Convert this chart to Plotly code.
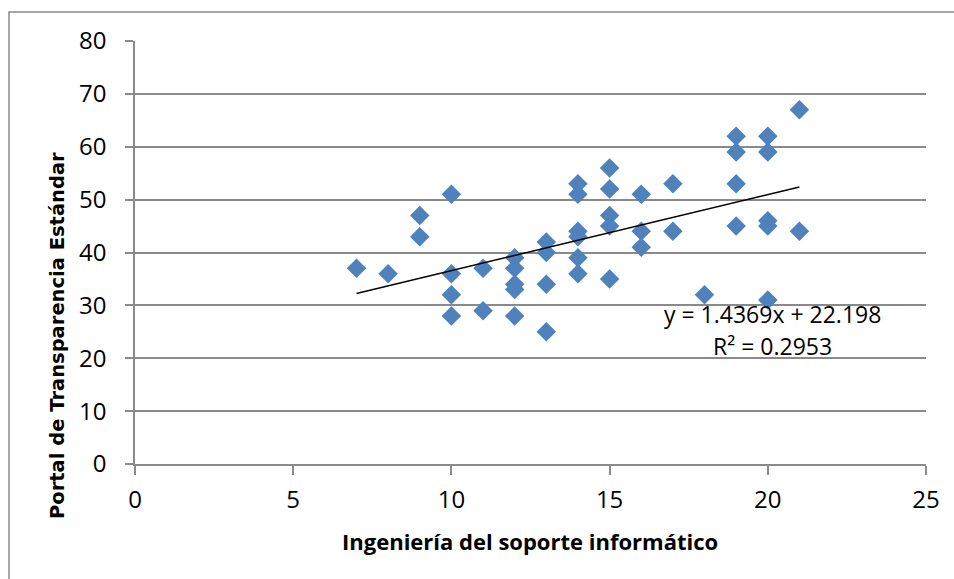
import plotly.graph_objects as go

# Data
x_values = [7, 8, 9, 9, 10, 10, 10, 10, 11, 11,
            12, 12, 12, 12, 12, 13, 13, 13, 13,
            14, 14, 14, 14, 14, 14, 15, 15, 15, 15, 15,
            16, 16, 16, 17, 17, 18,
            19, 19, 19, 19, 20, 20, 20, 20, 20, 21, 21]
y_values = [37, 36, 47, 43, 51, 36, 32, 28, 37, 29,
            39, 37, 34, 33, 28, 42, 40, 34, 25,
            53, 51, 44, 43, 39, 36, 56, 52, 47, 45, 35,
            51, 44, 41, 53, 44, 32,
            62, 59, 53, 45, 62, 59, 46, 45, 31, 67, 44]

slope = 1.4369
intercept = 22.198
r_squared = 0.2953
trend_x = [min(x_values), max(x_values)]
trend_y = [slope * v + intercept for v in trend_x]

x_ticks = [0, 5, 10, 15, 20, 25]
y_ticks = [0, 10, 20, 30, 40, 50, 60, 70, 80]

x_title = "Ingeniería del soporte informático"
y_title = "Portal de Transparencia Estándar"
eq_text = f"y = {slope}x + {intercept}"
r2_text = f"R² = {r_squared}"

grid_color = "#8A8A8A"
font_main = "Open Sans, Noto Sans, sans-serif"

fig = go.Figure()
fig.add_trace(go.Scatter(
    x=x_values, y=y_values, mode="markers",
    marker=dict(symbol="diamond", size=15, color="#4F81BD", line=dict(width=0)),
    showlegend=False, hoverinfo="x+y"))
fig.add_trace(go.Scatter(
    x=trend_x, y=trend_y, mode="lines",
    line=dict(color="black", width=1.5), showlegend=False, hoverinfo="skip"))

fig.update_layout(
    width=954, height=579,
    margin=dict(l=135, r=28, t=41, b=115),
    paper_bgcolor="white", plot_bgcolor="white",
    font=dict(family=font_main, size=24, color="black"),
    xaxis=dict(range=[0, 25], tickvals=x_ticks, showgrid=False, zeroline=False,
               showline=True, linecolor=grid_color, linewidth=1.5,
               ticks="outside", ticklen=9, tickcolor=grid_color, tickwidth=1.5,
               ticklabelstandoff=4, tickfont=dict(size=24)),
    yaxis=dict(range=[0, 80], tickvals=y_ticks, showgrid=True, gridcolor=grid_color,
               gridwidth=1.5, zeroline=False, showline=True, linecolor=grid_color,
               linewidth=1.5, ticks="outside", ticklen=8, tickcolor=grid_color,
               tickwidth=1.5, ticklabelstandoff=14, tickfont=dict(size=24)),
    annotations=[
        dict(text=x_title, xref="paper", yref="paper", x=0.4994, y=-0.182,
             showarrow=False, xanchor="center", yanchor="middle",
             font=dict(family=font_main, size=22, color="black", weight="bold")),
        dict(text=y_title, xref="paper", yref="paper", x=-0.0986, y=0.3026,
             showarrow=False, xanchor="center", yanchor="middle", textangle=-90,
             font=dict(family="DejaVu Sans, sans-serif", size=19.5, color="black",
                       weight="bold")),
        dict(text=eq_text, xref="x", yref="y", x=20.16, y=28.3, showarrow=False,
             xanchor="center", yanchor="middle",
             font=dict(family=font_main, size=23, color="black")),
        dict(text=r2_text, xref="x", yref="y", x=20.16, y=22.4, showarrow=False,
             xanchor="center", yanchor="middle",
             font=dict(family=font_main, size=23, color="black")),
    ],
    shapes=[dict(type="rect", xref="paper", yref="paper",
                 x0=(9 - 135) / 791, x1=(970 - 135) / 791,
                 y0=(464 - 600) / 423, y1=(464 - 12) / 423,
                 line=dict(color=grid_color, width=1.5), fillcolor="rgba(0,0,0,0)",
                 layer="below")],
)

fig.write_html("out.html",
               config={"displayModeBar": False},
               post_script="document.body.style.margin='0';"
                           "document.body.style.overflow='hidden';")
